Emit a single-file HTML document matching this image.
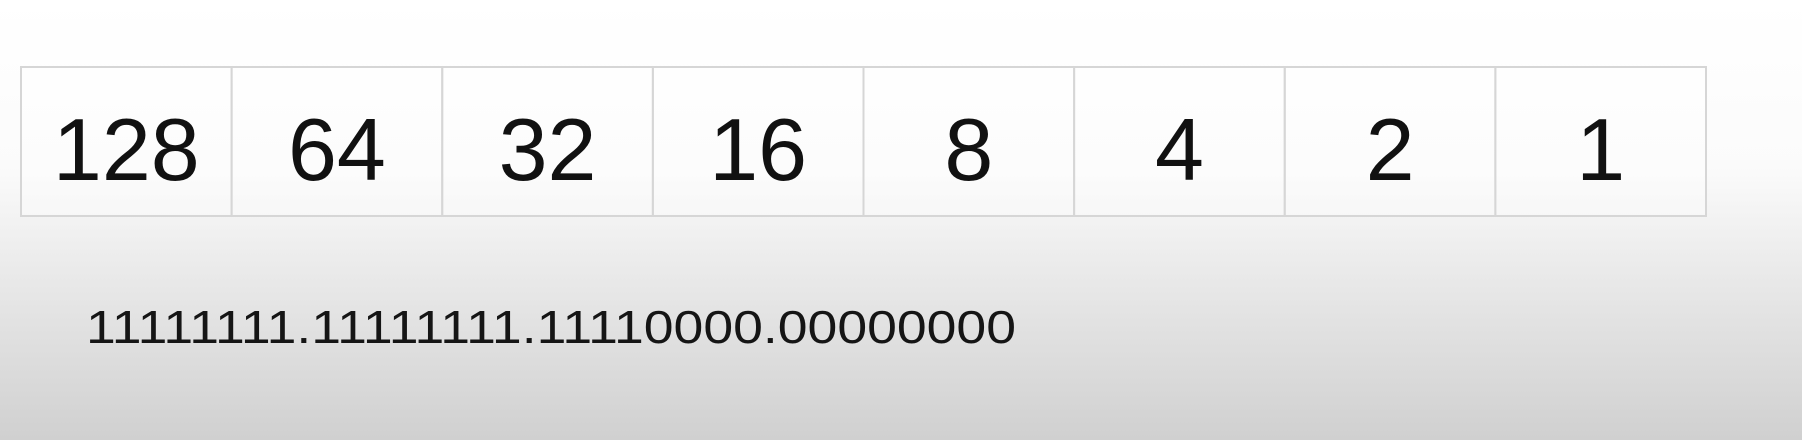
<!DOCTYPE html>
<html><head><meta charset="utf-8"><style>
html,body{margin:0;padding:0;width:1802px;height:440px;overflow:hidden}
svg{display:block}
</style></head><body>
<svg width="1802" height="440">
<defs>
<linearGradient id="bg" x1="0" y1="0" x2="0" y2="1">
<stop offset="0" stop-color="#ffffff"/>
<stop offset="0.38" stop-color="#fbfbfb"/>
<stop offset="0.6" stop-color="#ebebeb"/>
<stop offset="1" stop-color="#d0d0d0"/>
</linearGradient>
</defs>
<rect width="1802" height="440" fill="url(#bg)"/>
<g id="table"></g>
<text x="86" y="343" font-family="Liberation Sans, sans-serif" font-size="46" fill="#151515" textLength="930" lengthAdjust="spacingAndGlyphs">11111111.11111111.11110000.00000000</text>
</svg>
<script>
const values = ["128","64","32","16","8","4","2","1"];
const tblLeft = 21, tblRight = 1706, tblTop = 67, tblBottom = 216;
const tbl = document.getElementById('table');
const svgNS = 'http://www.w3.org/2000/svg';
const cellW = (tblRight-tblLeft)/values.length;
values.forEach((v,i)=>{
  const r = document.createElementNS(svgNS,'rect');
  r.setAttribute('x', tblLeft+i*cellW); r.setAttribute('y', tblTop);
  r.setAttribute('width', cellW); r.setAttribute('height', tblBottom-tblTop);
  r.setAttribute('fill', 'rgba(255,255,255,0.35)');
  r.setAttribute('stroke', '#d6d6d6'); r.setAttribute('stroke-width', '2');
  
  
  tbl.appendChild(r);
  const t = document.createElementNS(svgNS,'text');
  t.setAttribute('x', tblLeft+i*cellW+cellW/2); t.setAttribute('y', 180);
  t.setAttribute('text-anchor','middle');
  t.setAttribute('font-family','Liberation Sans, sans-serif');
  t.setAttribute('font-size','88'); t.setAttribute('fill','#111');
  t.textContent = v;
  
  
  tbl.appendChild(t);
});
</script>
</body></html>
